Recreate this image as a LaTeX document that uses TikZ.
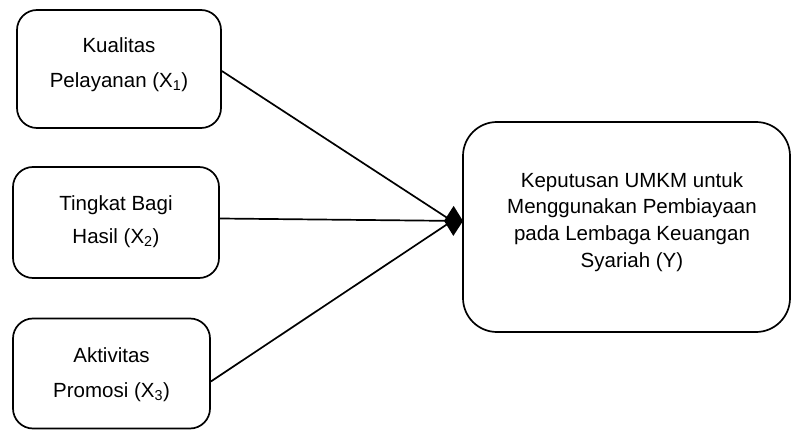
\documentclass[tikz,border=0pt]{standalone}
\usepackage{fontspec}
\setmainfont{Liberation Sans}
\usetikzlibrary{arrows.meta}
\begin{document}
\begin{tikzpicture}[x=1pt,y=-1pt,
  box/.style={draw,line width=1.7pt,rounded corners=20pt,inner sep=0pt},
  lbl/.style={align=center,font=\fontsize{20.5}{35}\selectfont},
  conn/.style={line width=1.7pt},
  tipconn/.style={line width=1.7pt,-{Diamond[length=19pt,width=30pt,line width=0pt]}}]
\useasboundingbox (0,0) rectangle (792,430);
\node[box,minimum width=204pt,minimum height=118pt] (b1) at (119,69) {};
\node[box,minimum width=206pt,minimum height=111pt] (b2) at (116,222.5) {};
\node[box,minimum width=197pt,minimum height=110pt] (b3) at (111.5,373.5) {};
\node[box,rounded corners=34pt,minimum width=327pt,minimum height=210pt] (y) at (626.5,227) {};
\node[lbl] (t1) at (119,65) {Kualitas\\Pelayanan (X\textsubscript{1})};
\node[lbl,font=\fontsize{20.5}{33}\selectfont] (t2) at (116,221.5) {Tingkat Bagi\\Hasil (X\textsubscript{2})};
\node[lbl] (t3) at (111.5,374.5) {Aktivitas\\Promosi (X\textsubscript{3})};
\node[lbl,font=\fontsize{20.5}{26.7}\selectfont] (ty) at (632,222) {Keputusan UMKM untuk\\Menggunakan Pembiayaan\\pada Lembaga Keuangan\\Syariah (Y)};
\coordinate (tip) at (463,221);
\coordinate (meet) at (452,221);
\draw[conn] ([yshift=-2pt]b1.east) -- (meet);
\draw[conn] ([yshift=-8pt]b3.east) -- (meet);
\draw[tipconn] ([yshift=4pt]b2.east) -- (tip);
\end{tikzpicture}
\end{document}
